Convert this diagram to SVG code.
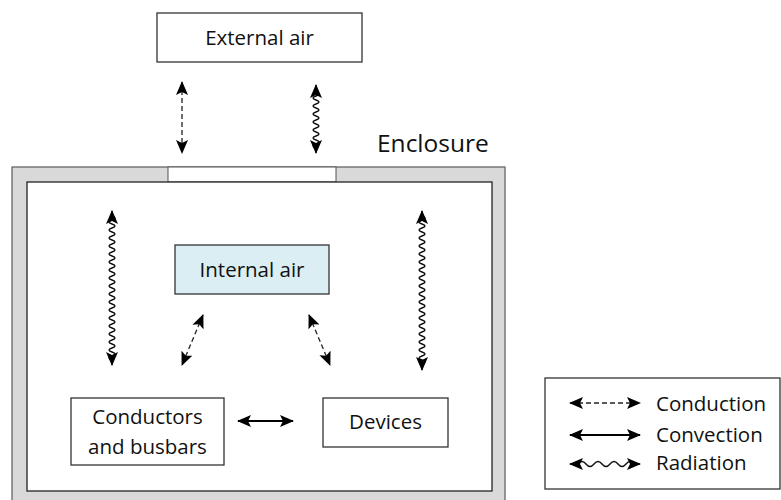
<svg xmlns="http://www.w3.org/2000/svg" width="781" height="500" viewBox="0 0 781 500">
<defs>
<style>
.box{fill:#fff;stroke:#333;stroke-width:1.3}
.t{font-family:"Open Sans","Liberation Sans",sans-serif;font-size:20.5px;fill:#111;text-anchor:middle}
.lt{font-family:"Open Sans","Liberation Sans",sans-serif;font-size:20.5px;fill:#111}
.dash{fill:none;stroke:#222;stroke-width:1.3;stroke-dasharray:5,3;marker-start:url(#ah);marker-end:url(#ah)}
.solid{fill:none;stroke:#000;stroke-width:2;marker-start:url(#ah);marker-end:url(#ah)}
.wave{fill:none;stroke:#111;stroke-width:1.4;marker-start:url(#ah);marker-end:url(#ah)}
</style>
<marker id="ah" viewBox="0 0 14 12" refX="13" refY="6" markerWidth="14" markerHeight="12" markerUnits="userSpaceOnUse" orient="auto-start-reverse">
<path d="M0,0 L14,6 L0,12 L3,6 Z" fill="#000"/>
</marker>
</defs>

<g id="enclosure">
<rect x="12" y="167" width="493" height="340" fill="#d9d9d9" stroke="#666" stroke-width="1.3"/>
<rect x="168" y="167" width="168" height="15" fill="#fff" stroke="#555" stroke-width="1"/>
<rect x="27" y="182" width="465" height="309" fill="#fff" stroke="#222" stroke-width="1.3"/>
<text x="377" y="152" class="lt" style="font-size:24.5px">Enclosure</text>
</g>

<g id="external-air">
<rect class="box" x="157" y="13" width="205" height="49"/>
<text class="t" x="259.500" y="45">External air</text>
</g>

<g id="internal-air">
<rect x="175" y="245" width="154" height="49" fill="#daeef3" stroke="#333" stroke-width="1.3"/>
<text class="t" x="252" y="277">Internal air</text>
</g>

<g id="conductors">
<rect class="box" x="71" y="398" width="153" height="67"/>
<text class="t" x="147.500" y="424">Conductors</text>
<text class="t" x="147.500" y="454">and busbars</text>
</g>

<g id="devices">
<rect class="box" x="323" y="398" width="125" height="49"/>
<text class="t" x="385.500" y="429">Devices</text>
</g>

<g id="connectors">
<path class="dash" d="M182,82 L182,153"/>
<path class="wave" d="M316,85 L316,92 q6,2 0,4 t0,4 t0,4 t0,4 t0,4 t0,4 t0,4 t0,4 t0,4 t0,4 t0,4 t0,4 t0,4 t0,4 L316,153"/>
<path class="wave" d="M112,211 L112,216 q6,2 0,4 t0,4 t0,4 t0,4 t0,4 t0,4 t0,4 t0,4 t0,4 t0,4 t0,4 t0,4 t0,4 t0,4 t0,4 t0,4 t0,4 t0,4 t0,4 t0,4 t0,4 t0,4 t0,4 t0,4 t0,4 t0,4 t0,4 t0,4 t0,4 t0,4 t0,4 t0,4 t0,4 t0,4 t0,4 t0,4 L112,365"/>
<path class="wave" d="M422,211 L422,216 q6,2 0,4 t0,4 t0,4 t0,4 t0,4 t0,4 t0,4 t0,4 t0,4 t0,4 t0,4 t0,4 t0,4 t0,4 t0,4 t0,4 t0,4 t0,4 t0,4 t0,4 t0,4 t0,4 t0,4 t0,4 t0,4 t0,4 t0,4 t0,4 t0,4 t0,4 t0,4 t0,4 t0,4 t0,4 t0,4 t0,4 t0,4 L422,370"/>
<path class="dash" d="M203,315 L182,365"/>
<path class="dash" d="M309,315 L330,365"/>
<path class="solid" d="M238,421 L293,421"/>
</g>

<g id="legend">
<rect class="box" x="545" y="378" width="235" height="111"/>
<path class="dash" d="M570,403 L640,403"/>
<path class="solid" d="M570,435 L640,435"/>
<path class="wave" d="M570,464 L578,464 q4,-5 8,0 t8,0 t8,0 t8,0 t8,0 t8,0 t8,0 L640,464"/>
<text class="lt" x="656" y="411">Conduction</text>
<text class="lt" x="656" y="442">Convection</text>
<text class="lt" x="656" y="470">Radiation</text>
</g>
</svg>
